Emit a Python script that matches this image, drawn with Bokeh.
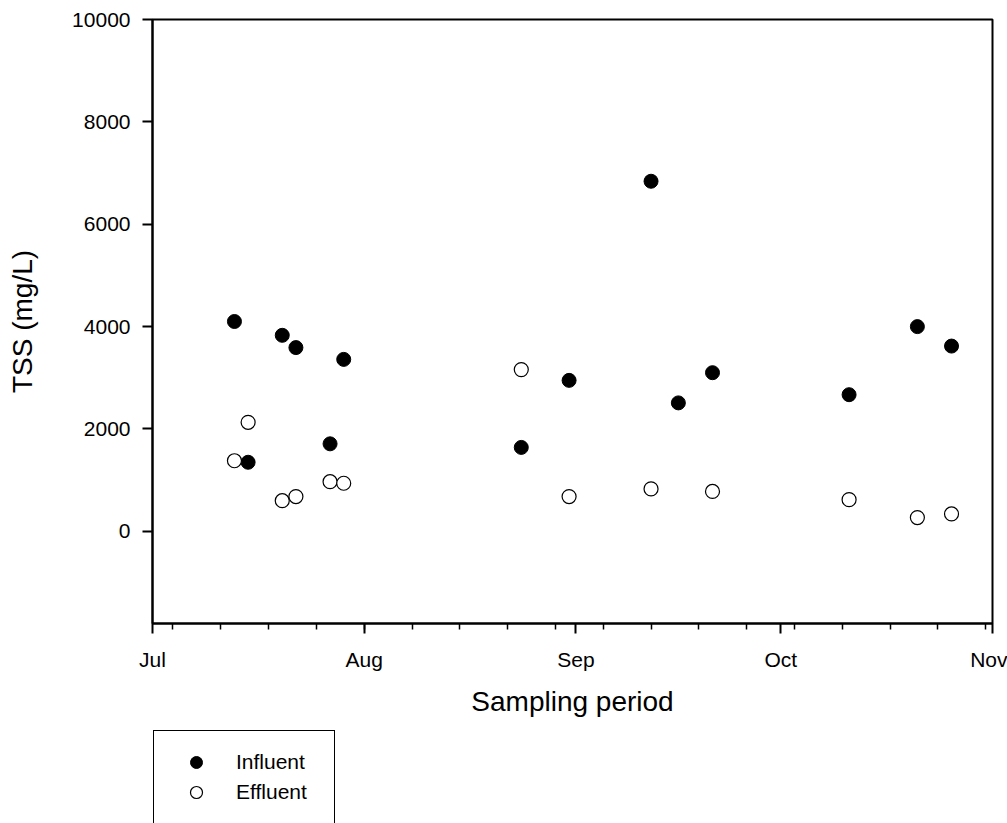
import pandas as pd
from bokeh.plotting import figure
from bokeh.layouts import column
from bokeh.models import FixedTicker, Legend, LegendItem, Range1d
from bokeh.embed import file_html
from bokeh.resources import INLINE

# ---- data ----
influent_dates = ["2005-07-13", "2005-07-15", "2005-07-20", "2005-07-22", "2005-07-27",
                  "2005-07-29", "2005-08-24", "2005-08-31", "2005-09-12", "2005-09-16",
                  "2005-09-21", "2005-10-11", "2005-10-21", "2005-10-26"]
influent_tss = [4100, 1350, 3830, 3590, 1710, 3360, 1640, 2950, 6840, 2510, 3100, 2670, 4000, 3620]

effluent_dates = ["2005-07-13", "2005-07-15", "2005-07-20", "2005-07-22", "2005-07-27",
                  "2005-07-29", "2005-08-24", "2005-08-31", "2005-09-12", "2005-09-21",
                  "2005-10-11", "2005-10-21", "2005-10-26"]
effluent_tss = [1380, 2130, 600, 680, 970, 940, 3160, 680, 830, 780, 620, 270, 340]

month_starts = ["2005-07-01", "2005-08-01", "2005-09-01", "2005-10-01", "2005-11-01"]
month_labels = ["Jul", "Aug", "Sep", "Oct", "Nov"]
y_ticks = [0, 2000, 4000, 6000, 8000, 10000]
series_names = ["Influent", "Effluent"]

origin = pd.Timestamp(month_starts[0])


def day_offset(dates):
    return [(pd.Timestamp(d) - origin).days for d in dates]


xi = day_offset(influent_dates)
xe = day_offset(effluent_dates)
xm = day_offset(month_starts)
weekly = list(range(3, xm[-1] + 1, 7))

FONT = "Liberation Sans"
IN_STYLE = dict(marker="circle", size=14, fill_color="black", line_color="black", line_width=1)
EF_STYLE = dict(marker="circle", size=14, fill_color="white", line_color="black", line_width=1.2)

p = figure(width=1007, height=720, output_backend="svg", toolbar_location=None,
           x_range=Range1d(xm[0], xm[-1]), y_range=Range1d(-1800, 10000),
           min_border_left=152, min_border_right=15, min_border_top=19,
           min_border_bottom=97)
p.xgrid.visible = False
p.ygrid.visible = False
p.outline_line_color = "black"
p.outline_line_width = 2
p.background_fill_color = "white"
p.border_fill_color = "white"

p.scatter(xi, influent_tss, **IN_STYLE)
p.scatter(xe, effluent_tss, **EF_STYLE)

# x axis
xa = p.xaxis[0]
xa.ticker = FixedTicker(ticks=xm, minor_ticks=weekly)
xa.major_label_overrides = {m: lab for m, lab in zip(xm, month_labels)}
xa.axis_label = "Sampling period"
# y axis
ya = p.yaxis[0]
ya.ticker = FixedTicker(ticks=y_ticks, minor_ticks=[])
ya.axis_label = "TSS (mg/L)"

for ax in (xa, ya):
    ax.axis_line_color = "black"
    ax.axis_line_width = 2
    ax.major_tick_line_color = "black"
    ax.major_tick_line_width = 2
    ax.major_tick_in = 0
    ax.major_tick_out = 10
    ax.minor_tick_line_color = "black"
    ax.minor_tick_line_width = 1.5
    ax.minor_tick_in = 0
    ax.minor_tick_out = 6
    ax.major_label_text_font = FONT
    ax.major_label_text_font_size = "21px"
    ax.major_label_text_color = "black"
    ax.axis_label_text_font = FONT
    ax.axis_label_text_font_size = "28px"
    ax.axis_label_text_font_style = "normal"
    ax.axis_label_text_color = "black"

xa.major_label_standoff = 14
xa.axis_label_standoff = 12
ya.major_label_standoff = 12
ya.axis_label_standoff = 31

# ---- legend strip below the chart ----
q = figure(width=1007, height=103, output_backend="svg", toolbar_location=None,
           x_axis_type=None, y_axis_type=None, min_border=0,
           x_range=Range1d(0, 1), y_range=Range1d(0, 1))
q.xgrid.visible = False
q.ygrid.visible = False
q.outline_line_color = None
q.background_fill_color = "white"
q.border_fill_color = "white"
# legend-only proxies, placed outside the visible range
l_in = q.scatter([-5], [-5], **IN_STYLE)
l_ef = q.scatter([-5], [-5], **EF_STYLE)

legend = Legend(items=[LegendItem(label=series_names[0], renderers=[l_in]),
                       LegendItem(label=series_names[1], renderers=[l_ef])],
                location=(1, -1), orientation="vertical",
                padding=16, spacing=0, margin=0,
                glyph_width=52, glyph_height=30, label_height=30, label_width=82,
                label_standoff=14,
                label_text_font=FONT, label_text_font_size="21px",
                label_text_color="black",
                border_line_color="black", border_line_width=1.5, border_line_alpha=1,
                background_fill_color="white", background_fill_alpha=1)
q.add_layout(legend, "center")

layout = column(p, q, spacing=0)
open("out.html", "w").write(file_html(layout, INLINE))
